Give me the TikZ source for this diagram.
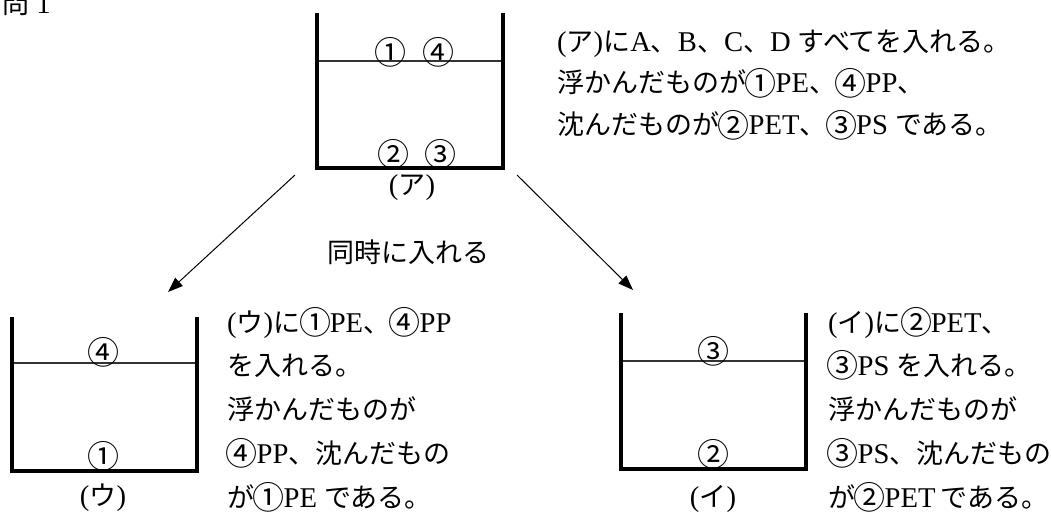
\documentclass[tikz,border=0pt]{standalone}
\usepackage{fontspec}
\setmainfont{Liberation Serif}[Scale=1.06]
\newfontfamily\jp{Noto Sans CJK JP}
\usetikzlibrary{arrows.meta}
\newcommand\J[1]{{\jp #1}}
\newcommand\C[1]{\makebox[29.5pt]{\raisebox{-2.5pt}{\fontsize{32}{32}\selectfont\jp #1}}}
\begin{document}
\begin{tikzpicture}[x=1pt,y=-1pt,
  txt/.style={anchor=base west, inner sep=0pt, font=\fontsize{27}{27}\selectfont},
  num/.style={anchor=center, inner sep=0pt, font=\fontsize{32}{32}\selectfont\jp},
  lbl/.style={anchor=center, inner sep=0pt, font=\fontsize{27}{27}\selectfont},
  wall/.style={line width=3.5pt},
  water/.style={line width=1.1pt, black!80},
  arr/.style={line width=1pt, -{Triangle[length=15pt,width=11pt]}}]
\useasboundingbox (0,0) rectangle (1051,516);

% title
\node[txt] (title) at (2,14) {\J{問} 1};

% beaker A
\draw[wall] (317,13) -- (317,168) -- (503,168) -- (503,13);
\draw[water] (319,61) -- (501,61);
\node[num] (a1) at (390,52) {①};
\node[num] (a4) at (438,52) {④};
\node[num] (a2) at (393,154) {②};
\node[num] (a3) at (440,154) {③};
\node[lbl] (la) at (412,188) {(\J{ア})};

% beaker U
\draw[wall] (12,317) -- (12,471) -- (197,471) -- (197,317);
\draw[water] (14,363) -- (195,363);
\node[num] (u4) at (103,352) {④};
\node[num] (u1) at (103,456) {①};
\node[lbl] (lu) at (103,498) {(\J{ウ})};

% beaker I
\draw[wall] (621,313) -- (621,469) -- (806,469) -- (806,313);
\draw[water] (623,361) -- (804,361);
\node[num] (i3) at (713,351) {③};
\node[num] (i2) at (713,454) {②};
\node[lbl] (li) at (713,499) {(\J{イ})};

% top text
\node[txt] (ta1) at (557,52) {(\J{ア})\J{に}A\J{、}B\J{、}C\J{、}D \J{すべてを入れる。}};
\node[txt] (ta2) at (557,93) {\J{浮かんだものが}\C{①}PE\J{、}\C{④}PP\J{、}};
\node[txt] (ta3) at (557,135) {\J{沈んだものが}\C{②}PET\J{、}\C{③}PS \J{である。}};

% middle
\node[txt] (mid) at (327,262) {\J{同時に入れる}};

% arrows
\coordinate (sl) at (295,175);
\coordinate (el) at (168,292);
\coordinate (sr) at (517,175);
\coordinate (er) at (633,290);
\draw[arr] (sl) -- (el);
\draw[arr] (sr) -- (er);

% U text
\node[txt] (tu1) at (227,332) {(\J{ウ})\J{に}\C{①}PE\J{、}\C{④}PP};
\node[txt] (tu2) at (227,375) {\J{を入れる。}};
\node[txt] (tu3) at (227,419) {\J{浮かんだものが}};
\node[txt] (tu4) at (227,463) {\C{④}PP\J{、沈んだもの}};
\node[txt] (tu5) at (227,507) {\J{が}\C{①}PE \J{である。}};

% I text
\node[txt] (ti1) at (828,332) {(\J{イ})\J{に}\C{②}PET\J{、}};
\node[txt] (ti2) at (828,375) {\C{③}PS \J{を入れる。}};
\node[txt] (ti3) at (828,419) {\J{浮かんだものが}};
\node[txt] (ti4) at (828,463) {\C{③}PS\J{、沈んだもの}};
\node[txt] (ti5) at (828,507) {\J{が}\C{②}PET\,\J{である。}};
\end{tikzpicture}
\end{document}
